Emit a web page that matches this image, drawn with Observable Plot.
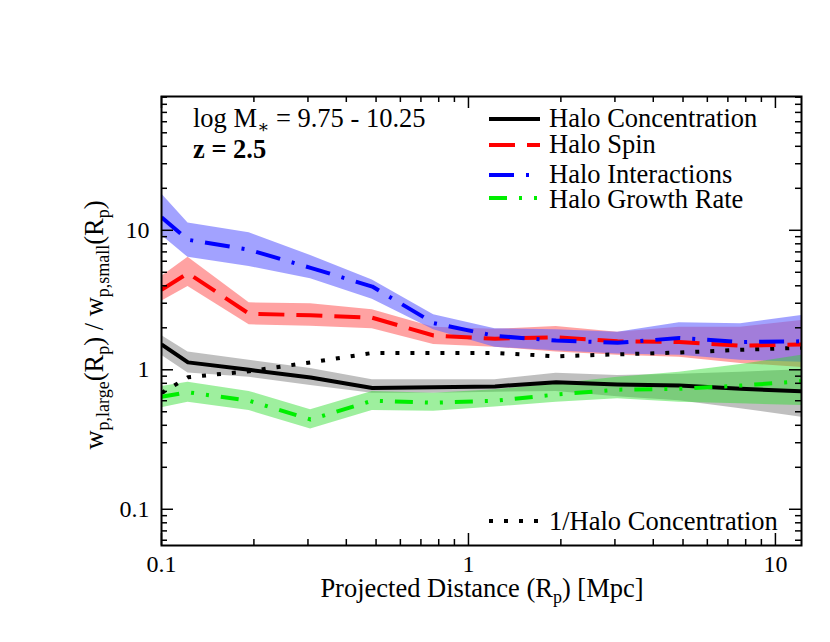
<!DOCTYPE html>
<html><head><meta charset="utf-8">
<script src="https://cdn.jsdelivr.net/npm/d3@7"></script>
<script src="https://cdn.jsdelivr.net/npm/@observablehq/plot@0.6"></script>
<style>body{margin:0;background:#fff;}</style>
</head><body><div id="chart"></div>
<script>
// Projected distance bins (Mpc)
const R = [0.1, 0.122, 0.193, 0.306, 0.486, 0.77, 1.22, 1.93, 3.06, 4.86, 7.7, 12.2];
// Halo Concentration
const conc   = [1.52, 1.13, 1.00, 0.88, 0.74, 0.75, 0.76, 0.815, 0.785, 0.77, 0.73, 0.70];
const concLo = [1.27, 0.95, 0.885, 0.77, 0.68, 0.68, 0.69, 0.70, 0.64, 0.60, 0.525, 0.457];
const concHi = [1.76, 1.34, 1.17, 1.02, 0.85, 0.85, 0.85, 0.946, 0.91, 0.93, 0.96, 1.0];
// Halo Spin
const spin   = [3.74, 4.93, 2.52, 2.46, 2.36, 1.76, 1.67, 1.71, 1.60, 1.58, 1.49, 1.52];
const spinLo = [3.1, 3.95, 2.1, 2.05, 1.97, 1.52, 1.45, 1.34, 1.27, 1.23, 1.11, 1.04];
const spinHi = [4.67, 6.4, 3.02, 2.97, 2.69, 2.02, 1.95, 2.04, 1.86, 2.02, 2.02, 2.26];
// Halo Interactions
const inter   = [12.4, 8.55, 7.25, 5.38, 3.95, 2.16, 1.75, 1.62, 1.56, 1.69, 1.58, 1.60];
const interLo = [9.2, 6.4, 5.5, 4.5, 3.2, 1.94, 1.45, 1.37, 1.30, 1.27, 1.17, 1.13];
const interHi = [18.3, 11.3, 9.6, 6.6, 4.4, 2.48, 1.97, 1.94, 1.86, 2.17, 2.14, 2.45];
// Halo Growth Rate
const growth   = [0.64, 0.69, 0.60, 0.44, 0.60, 0.58, 0.60, 0.665, 0.72, 0.73, 0.77, 0.83];
const growthLo = [0.535, 0.586, 0.51, 0.377, 0.51, 0.505, 0.54, 0.586, 0.62, 0.586, 0.57, 0.555];
const growthHi = [0.76, 0.815, 0.70, 0.517, 0.70, 0.68, 0.72, 0.79, 0.885, 0.96, 1.09, 1.27];
// 1/Halo Concentration
const invConc = [0.68, 0.885, 0.977, 1.13, 1.32, 1.32, 1.32, 1.25, 1.29, 1.33, 1.39, 1.44];

// Tick values
const xMajor = [0.1, 1, 10];
const xMinor = [0.2,0.3,0.4,0.5,0.6,0.7,0.8,0.9,2,3,4,5,6,7,8,9];
const yMajor = [0.1, 1, 10];
const yMinor = [0.06,0.07,0.08,0.09,0.2,0.3,0.4,0.5,0.6,0.7,0.8,0.9,2,3,4,5,6,7,8,9,20,30,40,50,60,70,80,90];

const rows = R.map((r, i) => ({
  R: r,
  conc: conc[i], concLo: concLo[i], concHi: concHi[i],
  spin: spin[i], spinLo: spinLo[i], spinHi: spinHi[i],
  inter: inter[i], interLo: interLo[i], interHi: interHi[i],
  growth: growth[i], growthLo: growthLo[i], growthHi: growthHi[i],
  inv: invConc[i]
}));

const W = 830, H = 642, mL = 161, mR = 29, mT = 96, mB = 97;
const fw = W - mL - mR, fh = H - mT - mB;
const FONT = "'Liberation Serif', 'DejaVu Serif', serif";
const FS = 26.5;

const STY = {
  conc:   {stroke: "black", dash: null},
  spin:   {stroke: "#ff0000", dash: "26,12"},
  inter:  {stroke: "#0000ff", dash: "25,12,3,12"},
  growth: {stroke: "#00ee00", dash: "18,12,3,12,3,12"},
  inv:    {stroke: "black", dash: "4,11"}
};

const line = (key) => Plot.lineY(rows, {
  x: "R", y: key, stroke: STY[key].stroke, strokeWidth: 4,
  strokeDasharray: STY[key].dash || undefined,
  strokeLinecap: "butt", strokeLinejoin: "round", clip: true
});

const svgNode = Plot.plot({
  width: W, height: H,
  marginLeft: mL, marginRight: mR, marginTop: mT, marginBottom: mB,
  style: {fontFamily: FONT, fontSize: "24px", background: "white", color: "black"},
  x: {type: "log", domain: [0.1, 12.16]},
  y: {type: "log", domain: [0.055, 91]},
  marks: [
    Plot.areaY(rows, {x: "R", y1: "concLo", y2: "concHi", fill: "rgb(128,128,128)", fillOpacity: 0.5, clip: true}),
    Plot.areaY(rows, {x: "R", y1: "spinLo", y2: "spinHi", fill: "rgb(255,100,100)", fillOpacity: 0.6, clip: true}),
    Plot.areaY(rows, {x: "R", y1: "interLo", y2: "interHi", fill: "rgb(100,100,255)", fillOpacity: 0.6, clip: true}),
    Plot.areaY(rows, {x: "R", y1: "growthLo", y2: "growthHi", fill: "rgb(40,220,40)", fillOpacity: 0.45, clip: true}),
    line("conc"),
    line("inv"),
    line("spin"),
    line("inter"),
    line("growth"),
    // ticks (inward, on all four sides)
    Plot.tickX(xMajor, {x: d => d, insetTop: fh - 12, strokeWidth: 1.5}),
    Plot.tickX(xMajor, {x: d => d, insetBottom: fh - 12, strokeWidth: 1.5}),
    Plot.tickX(xMinor, {x: d => d, insetTop: fh - 6, strokeWidth: 1.5}),
    Plot.tickX(xMinor, {x: d => d, insetBottom: fh - 6, strokeWidth: 1.5}),
    Plot.tickY(yMajor, {y: d => d, insetRight: fw - 12, strokeWidth: 1.5}),
    Plot.tickY(yMajor, {y: d => d, insetLeft: fw - 12, strokeWidth: 1.5}),
    Plot.tickY(yMinor, {y: d => d, insetRight: fw - 6, strokeWidth: 1.5}),
    Plot.tickY(yMinor, {y: d => d, insetLeft: fw - 6, strokeWidth: 1.5}),
    Plot.frame({stroke: "black", strokeWidth: 2}),
    Plot.axisX({ticks: xMajor, tickSize: 0, tickPadding: 9, tickFormat: d => String(d), label: null, fontSize: 24}),
    Plot.axisY({ticks: yMajor, tickSize: 0, tickPadding: 12, tickFormat: d => String(d), label: null, fontSize: 24})
  ]
});

document.getElementById("chart").appendChild(svgNode);
const svg = d3.select(svgNode);
const g = svg.append("g").attr("font-family", FONT).attr("fill", "black").attr("text-anchor", "start");

// Annotations
const t1 = g.append("text").attr("x", 193).attr("y", 127).attr("font-size", FS);
t1.append("tspan").text("log M");
t1.append("tspan").attr("font-size", 18).attr("dy", 6).text("\u2217");
t1.append("tspan").attr("dy", -6).text(" = 9.75 - 10.25");
g.append("text").attr("x", 193).attr("y", 158).attr("font-size", FS).attr("font-weight", "bold").text("z = 2.5");

// Legend
const legend = [
  {key: "conc", label: "Halo Concentration", ly: 119, ty: 127},
  {key: "spin", label: "Halo Spin", ly: 145, ty: 153},
  {key: "inter", label: "Halo Interactions", ly: 175, ty: 183},
  {key: "growth", label: "Halo Growth Rate", ly: 198, ty: 208},
  {key: "inv", label: "1/Halo Concentration", ly: 521, ty: 530}
];
legend.forEach(e => {
  g.append("line").attr("x1", 489).attr("x2", 540).attr("y1", e.ly).attr("y2", e.ly)
    .attr("stroke", STY[e.key].stroke).attr("stroke-width", 4)
    .attr("stroke-dasharray", STY[e.key].dash).attr("stroke-linecap", "butt");
  g.append("text").attr("x", 549).attr("y", e.ty).attr("font-size", FS).text(e.label);
});

// Axis titles
const xt = g.append("text").attr("x", 482).attr("y", 597).attr("text-anchor", "middle").attr("font-size", FS);
xt.append("tspan").text("Projected Distance (R");
xt.append("tspan").attr("font-size", 18).attr("dy", 6).text("p");
xt.append("tspan").attr("dy", -6).text(") [Mpc]");

const yt = g.append("text").attr("transform", "translate(103,325) rotate(-90)").attr("text-anchor", "middle").attr("font-size", FS);
yt.append("tspan").text("w");
yt.append("tspan").attr("font-size", 18).attr("dy", 6).text("p,large");
yt.append("tspan").attr("dy", -6).text("(R");
yt.append("tspan").attr("font-size", 18).attr("dy", 6).text("p");
yt.append("tspan").attr("dy", -6).text(") / w");
yt.append("tspan").attr("font-size", 18).attr("dy", 6).text("p,small");
yt.append("tspan").attr("dy", -6).text("(R");
yt.append("tspan").attr("font-size", 18).attr("dy", 6).text("p");
yt.append("tspan").attr("dy", -6).text(")");
</script>
</body></html>
